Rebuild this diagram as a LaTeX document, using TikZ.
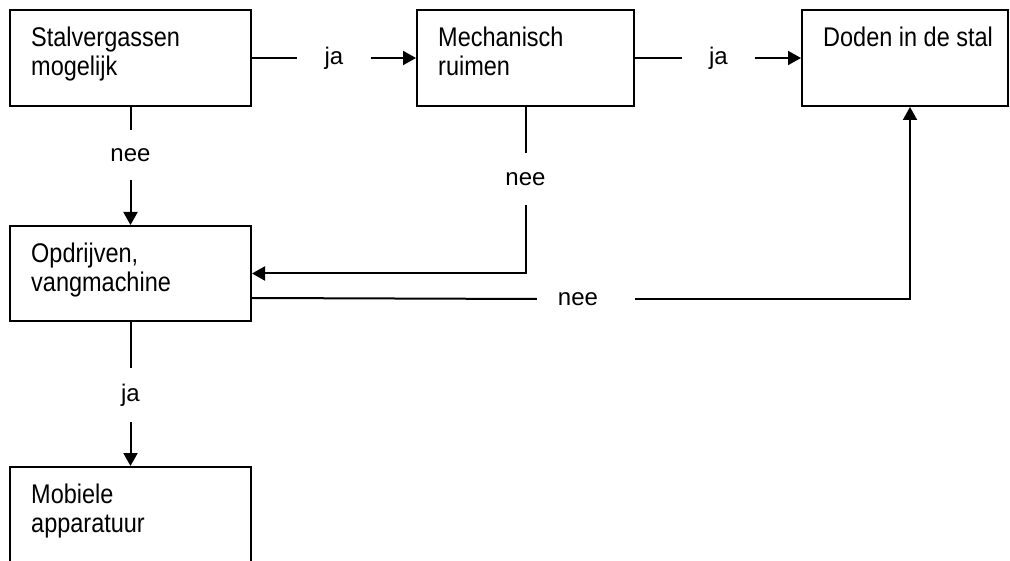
\documentclass[tikz,border=0pt]{standalone}
\usepackage{fontspec}
\setmainfont{Liberation Sans}
\newfontfamily\narrowsans[FakeStretch=0.87]{Liberation Sans}
\usetikzlibrary{arrows.meta}

\begin{document}
\begin{tikzpicture}[x=1pt,y=-1pt,
  box/.style={draw, line width=2pt, inner sep=0pt, minimum width=241pt, minimum height=96pt},
  boxtext/.style={anchor=north west, inner sep=0pt, align=left,
    font=\narrowsans\fontsize{27}{28.5}\selectfont},
  lbl/.style={inner sep=0pt, font=\fontsize{24}{28}\selectfont},
  link/.style={line width=2pt},
  arr/.style={link, -{Triangle[length=13pt,width=14pt]}}]

\useasboundingbox (0,0) rectangle (1010,561);
\clip (0,0) rectangle (1010,561);

% decision and action boxes
\node[box] (s) at (130.5,58) {};
\node[boxtext] (st) at ([xshift=22pt,yshift=-18pt]s.north west) {Stalvergassen\\mogelijk};

\node[box, minimum width=217pt] (m) at (525.5,58) {};
\node[boxtext] (mt) at ([xshift=22pt,yshift=-18pt]m.north west) {Mechanisch\\ruimen};

\node[box, minimum width=206pt] (d) at (905,58) {};
\node[boxtext] (dt) at ([xshift=22pt,yshift=-18pt]d.north west) {Doden in de stal};

\node[box, minimum height=95pt] (o) at (130.5,273.5) {};
\node[boxtext] (ot) at ([xshift=22pt,yshift=-18pt]o.north west) {Opdrijven,\\vangmachine};

\node[box, minimum height=140pt, anchor=north] (a) at (130.5,466) {};
\node[boxtext] (at) at ([xshift=22pt,yshift=-18pt]a.north west) {Mobiele\\apparatuur};

% connector labels
\node[lbl, minimum width=74pt] (ja1) at (334,58) {ja};
\node[lbl, minimum width=73pt] (ja2) at (718.5,58) {ja};
\node[lbl, minimum height=50pt] (nee1) at (130.5,155) {nee};
\node[lbl, minimum height=51pt] (nee2) at (525.5,179) {nee};
\node[lbl, minimum width=40pt] (nee3) at (578,299) {nee};
\node[lbl, minimum height=54pt] (ja3) at (130.5,395) {ja};

% connectors
\draw[link] (s.east) -- (ja1.west);
\draw[arr] (ja1.east) -- (m.west);

\draw[link] (m.east) -- (ja2.west);
\draw[arr] (ja2.east) -- (d.west);

\draw[link] (s.south) -- (nee1.north);
\draw[arr] (nee1.south) -- (o.north);

\draw[link] (m.south) -- (nee2.north);
\draw[arr] (nee2.south) |- (o.east);

\draw[link] ([yshift=-24.5pt]o.east) -- ([xshift=-21pt]nee3.west);
\draw[arr] ([xshift=37pt]nee3.east) -| ([xshift=5pt]d.south);

\draw[link] (o.south) -- (ja3.north);
\draw[arr] (ja3.south) -- (a.north);
\end{tikzpicture}
\end{document}
